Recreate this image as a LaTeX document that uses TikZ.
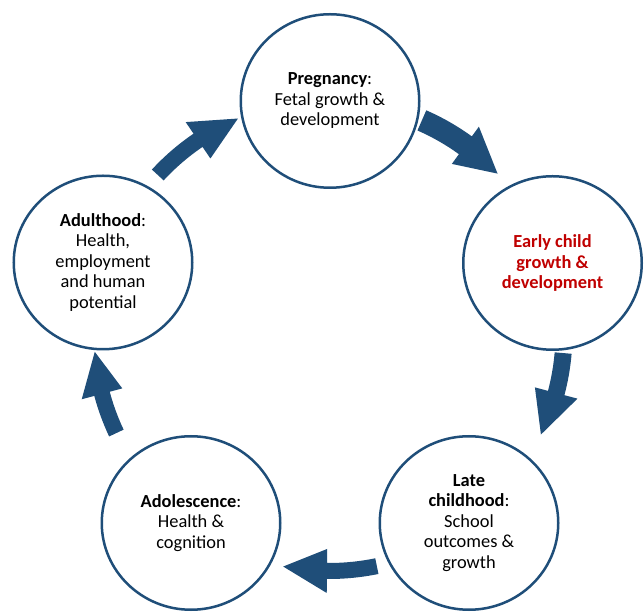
\documentclass[tikz,border=0pt]{standalone}
\usepackage{fontspec}
\setmainfont{Carlito}
\usetikzlibrary{shapes.geometric}
\definecolor{cyc}{HTML}{1F4E79}
\definecolor{redtxt}{HTML}{C00000}
\newcommand{\cycarr}[6]{%
  \pgfmathsetmacro{\cyRo}{#4+#5}\pgfmathsetmacro{\cyRi}{#4-#5}%
  \pgfmathsetmacro{\cyHo}{#4+#6}\pgfmathsetmacro{\cyHi}{#4-#6}%
  \fill[cycarrow] (#1:\cyRo) arc[start angle=#1, end angle=#2, radius=\cyRo]
    -- (#2:\cyHo) -- (#3:#4) -- (#2:\cyHi) -- (#2:\cyRi)
    arc[start angle=#2, end angle=#1, radius=\cyRi] -- cycle;}
\begin{document}
\begin{tikzpicture}[x=1pt,y=1pt,
  stage/.style={ellipse, draw=cyc, line width=2.5pt, minimum width=178.5pt, minimum height=173.5pt,
    inner sep=0pt, align=center, font=\fontsize{18.4}{20.5}\selectfont, text=black},
  cycarrow/.style={fill=cyc, draw=none}]
\useasboundingbox[fill=white] (0,0) rectangle (644,612);
\node[stage] (preg) at (330,511) {\textbf{Pregnancy}:\\Fetal growth \&\\development};
\node[stage, text=redtxt, font=\fontsize{18.4}{20.5}\selectfont\bfseries] (early) at (552.5,349) {Early child\\growth \&\\development};
\node[stage] (late) at (469,89) {\textbf{Late}\\\textbf{childhood}:\\School\\outcomes \&\\growth};
\node[stage] (adol) at (191,89) {\textbf{Adolescence}:\\Health \&\\cognition};
\node[stage] (adult) at (103,349.5) {\textbf{Adulthood}:\\Health,\\employment\\and human\\potential};
\begin{scope}[shift={(329,279)}]
  \cycarr{66.4}{54}{43.4}{232}{11}{23}
  \cycarr{-4.9}{-14.8}{-25.6}{235}{8.5}{22}
  \cycarr{-78.4}{-90.5}{-101.1}{238}{8}{22}
  \cycarr{205.2}{195}{184.6}{235}{8}{21}
  \cycarr{137.3}{124.2}{113}{233}{8}{22}
\end{scope}
\end{tikzpicture}
\end{document}
